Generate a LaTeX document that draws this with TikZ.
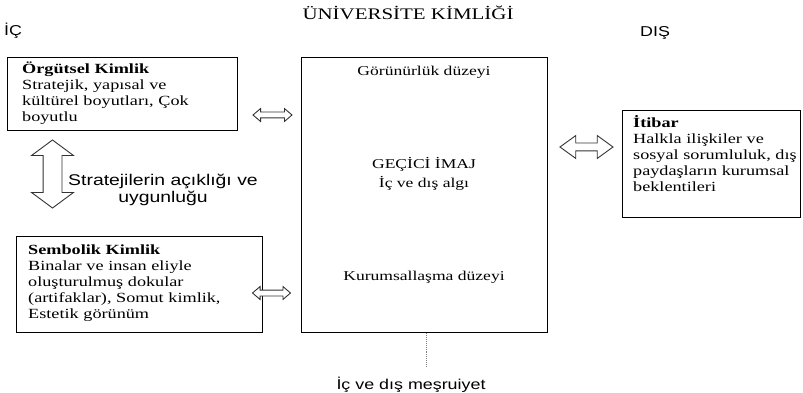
\documentclass[tikz,border=0pt]{standalone}
\usepackage{fontspec}
\setmainfont{Liberation Serif}[FakeStretch=1.3]
\setsansfont{Liberation Sans}[FakeStretch=1.25]
\usetikzlibrary{shapes.arrows}
\begin{document}
\begin{tikzpicture}[x=1pt,y=-1pt,
  box/.style={draw, line width=1.4pt, inner sep=0pt, anchor=north west},
  btext/.style={anchor=base west, inner sep=0pt, align=left, text width=#1,
    font=\fontsize{14}{16}\selectfont},
  ctext/.style={anchor=base, inner sep=0pt, align=center,
    font=\fontsize{13.5}{19}\selectfont},
  stext/.style={anchor=base, inner sep=0pt, font=\sffamily\fontsize{14.3}{16}\selectfont},
  dbl/.style={double arrow, draw=black!80, line width=0.9pt, fill=white,
    double arrow head indent=0pt}
]
\fill[white] (0,0) rectangle (803,393);
\useasboundingbox (0,0) rectangle (803,393);

% title and side labels
\node[anchor=base, inner sep=0pt, font=\fontsize{16.1}{19}\selectfont] (title) at (408,20) {ÜNİVERSİTE KİMLİĞİ};
\node[stext, anchor=base west] (ic) at (4,36) {İÇ};
\node[stext, anchor=base west] (dis) at (640,37) {DIŞ};

% boxes
\node[box, minimum width=230pt, minimum height=73pt] (org) at (7,57) {};
\node[btext=210pt] (orgtext) at (22,74) {\textbf{Örgütsel Kimlik}\\Stratejik, yapısal ve\\kültürel boyutları, Çok\\boyutlu};

\node[box, minimum width=246pt, minimum height=96pt] (sem) at (16,236) {};
\node[btext=225pt] (semtext) at (28,254) {\textbf{Sembolik Kimlik}\\Binalar ve insan eliyle\\oluşturulmuş dokular\\(artifaklar), Somut kimlik,\\Estetik görünüm};

\node[box, minimum width=246pt, minimum height=275pt] (center) at (301,57) {};
\node[ctext] (gor) at (424,76) {Görünürlük düzeyi};
\node[ctext] (imaj) at (424,187) {GEÇİCİ İMAJ\\İç ve dış algı};
\node[ctext] (kur) at (424,280) {Kurumsallaşma düzeyi};

\node[box, minimum width=178pt, minimum height=107pt] (itibar) at (622,110) {};
\node[btext=165pt] (ittext) at (633,128) {\textbf{İtibar}\\Halkla ilişkiler ve\\sosyal sorumluluk, dış\\paydaşların kurumsal\\beklentileri};

% arrows
\node[dbl, inner xsep=0pt, inner ysep=2.5pt, minimum height=39pt,
  double arrow head extend=3.5pt, double arrow tip angle=81] (a1) at (272.5,115) {};
\node[dbl, inner xsep=0pt, inner ysep=2.5pt, minimum height=38pt,
  double arrow head extend=3.5pt, double arrow tip angle=81] (a2) at (271.5,293) {};
\node[dbl, inner xsep=0pt, inner ysep=3.5pt, minimum height=53pt,
  double arrow head extend=7.5pt, double arrow tip angle=72] (a3) at (586.5,147) {};
\node[dbl, shape border rotate=90, inner sep=9pt, minimum height=68pt,
  double arrow head extend=11.5pt, double arrow tip angle=107] (a4) at (52.5,174) {};

\node[stext, align=center, font=\sffamily\fontsize{15.5}{17}\selectfont] (strat) at (163,202) {Stratejilerin açıklığı ve\\uygunluğu};

% legitimacy
\coordinate (legit) at (426,367);
\draw[gray, densely dotted, line width=0.9pt] (center.south -| legit) -- (legit);
\node[stext] (mesru) at (411,389) {İç ve dış meşruiyet};
\end{tikzpicture}
\end{document}
